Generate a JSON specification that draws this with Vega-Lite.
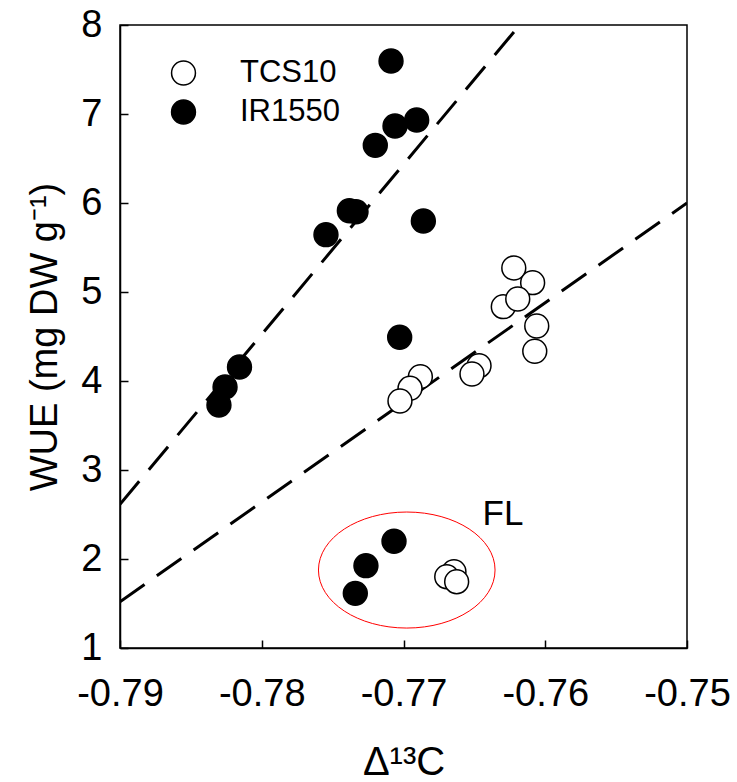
{
  "$schema": "https://vega.github.io/schema/vega-lite/v6.json",
  "width": 567,
  "height": 623,
  "autosize": {"type": "none"},
  "padding": {"left": 120, "top": 25, "right": 50, "bottom": 134},
  "background": "white",
  "config": {
    "view": {"stroke": "black", "strokeWidth": 1.5},
    "font": "Liberation Sans",
    "axis": {
      "grid": false,
      "domainColor": "black",
      "domainWidth": 1.5,
      "tickColor": "black",
      "tickWidth": 1.5,
      "tickSize": -8,
      "labelColor": "black",
      "labelFont": "Liberation Sans",
      "labelFontSize": 38,
      "labelFlush": false,
      "labelOverlap": false,
      "titleFont": "Liberation Sans",
      "titleFontSize": 38,
      "titleFontWeight": "normal",
      "titleColor": "black"
    }
  },
  "datasets": {
    "pts": [
      {"variety": "IR1550", "x": -0.77088, "y": 7.596},
      {"variety": "IR1550", "x": -0.77060, "y": 6.865},
      {"variety": "IR1550", "x": -0.76907, "y": 6.933},
      {"variety": "IR1550", "x": -0.77199, "y": 6.648},
      {"variety": "IR1550", "x": -0.77382, "y": 5.913},
      {"variety": "IR1550", "x": -0.77335, "y": 5.902},
      {"variety": "IR1550", "x": -0.77547, "y": 5.644},
      {"variety": "IR1550", "x": -0.76860, "y": 5.798},
      {"variety": "IR1550", "x": -0.77027, "y": 4.491},
      {"variety": "IR1550", "x": -0.78157, "y": 4.157},
      {"variety": "IR1550", "x": -0.78259, "y": 3.933},
      {"variety": "IR1550", "x": -0.78302, "y": 3.730},
      {"variety": "IR1550", "x": -0.77067, "y": 2.199},
      {"variety": "IR1550", "x": -0.77265, "y": 1.925},
      {"variety": "IR1550", "x": -0.77340, "y": 1.614},
      {"variety": "TCS10", "x": -0.76222, "y": 5.270},
      {"variety": "TCS10", "x": -0.76089, "y": 5.105},
      {"variety": "TCS10", "x": -0.76296, "y": 4.835},
      {"variety": "TCS10", "x": -0.76194, "y": 4.921},
      {"variety": "TCS10", "x": -0.76060, "y": 4.618},
      {"variety": "TCS10", "x": -0.76074, "y": 4.334},
      {"variety": "TCS10", "x": -0.76467, "y": 4.172},
      {"variety": "TCS10", "x": -0.76517, "y": 4.079},
      {"variety": "TCS10", "x": -0.76881, "y": 4.049},
      {"variety": "TCS10", "x": -0.76954, "y": 3.918},
      {"variety": "TCS10", "x": -0.77025, "y": 3.775},
      {"variety": "TCS10", "x": -0.76644, "y": 1.858},
      {"variety": "TCS10", "x": -0.76695, "y": 1.801},
      {"variety": "TCS10", "x": -0.76625, "y": 1.745}
    ],
    "fits": [
      {"fit": "IR1550", "x": -0.79, "y": 2.615},
      {"fit": "IR1550", "x": -0.7618, "y": 8.0},
      {"fit": "TCS10", "x": -0.79, "y": 1.52},
      {"fit": "TCS10", "x": -0.75, "y": 6.0}
    ],
    "ellipse": [
      {"x": -0.76977, "y": 1.876}
    ],
    "fl": [
      {"x": -0.76298, "y": 2.506, "label": "FL"}
    ]
  },
  "layer": [
    {
      "data": {"name": "fits"},
      "mark": {"type": "line", "stroke": "black", "strokeWidth": 3, "strokeDash": [30, 15], "clip": true},
      "encoding": {
        "x": {
          "field": "x", "type": "quantitative",
          "scale": {"domain": [-0.79, -0.75], "nice": false, "zero": false},
          "axis": {
            "values": [-0.79, -0.78, -0.77, -0.76, -0.75],
            "format": ".2f",
            "labelExpr": "replace(datum.label, '−', '-')",
            "labelPadding": 35,
            "title": "Δ¹³C",
            "titleFontSize": 40,
            "titlePadding": 29
          }
        },
        "y": {
          "field": "y", "type": "quantitative",
          "scale": {"domain": [1, 8], "nice": false, "zero": false},
          "axis": {
            "values": [1, 2, 3, 4, 5, 6, 7, 8],
            "format": "d",
            "labelPadding": 26,
            "title": "WUE (mg DW g⁻¹)",
            "titlePadding": 16
          }
        },
        "detail": {"field": "fit", "type": "nominal"}
      }
    },
    {
      "data": {"name": "ellipse"},
      "mark": {
        "type": "point",
        "shape": "M-1,0 C-1,-0.3629 -0.5523,-0.657 0,-0.657 C0.5523,-0.657 1,-0.3629 1,0 C1,0.3629 0.5523,0.657 0,0.657 C-0.5523,0.657 -1,0.3629 -1,0 Z",
        "size": 31188,
        "filled": false,
        "stroke": "red",
        "strokeWidth": 1,
        "opacity": 1
      },
      "encoding": {
        "x": {"field": "x", "type": "quantitative"},
        "y": {"field": "y", "type": "quantitative"}
      }
    },
    {
      "data": {"name": "pts"},
      "mark": {"type": "circle", "size": 570, "stroke": "black", "strokeWidth": 1.5, "opacity": 1},
      "encoding": {
        "x": {"field": "x", "type": "quantitative"},
        "y": {"field": "y", "type": "quantitative"},
        "fill": {
          "field": "variety", "type": "nominal",
          "scale": {"domain": ["TCS10", "IR1550"], "range": ["white", "black"]},
          "legend": {
            "orient": "none",
            "legendX": 48,
            "legendY": 32.5,
            "title": null,
            "padding": 0,
            "labelFontSize": 31,
            "labelFont": "Liberation Sans",
            "labelColor": "black",
            "labelOffset": 41,
            "symbolSize": 570,
            "symbolType": "circle",
            "symbolStrokeColor": "black",
            "symbolStrokeWidth": 1.5,
            "rowPadding": 7
          }
        }
      }
    },
    {
      "data": {"name": "fl"},
      "mark": {"type": "text", "fontSize": 35, "font": "Liberation Sans", "align": "center", "baseline": "middle", "color": "black"},
      "encoding": {
        "x": {"field": "x", "type": "quantitative"},
        "y": {"field": "y", "type": "quantitative"},
        "text": {"field": "label"}
      }
    }
  ]
}
